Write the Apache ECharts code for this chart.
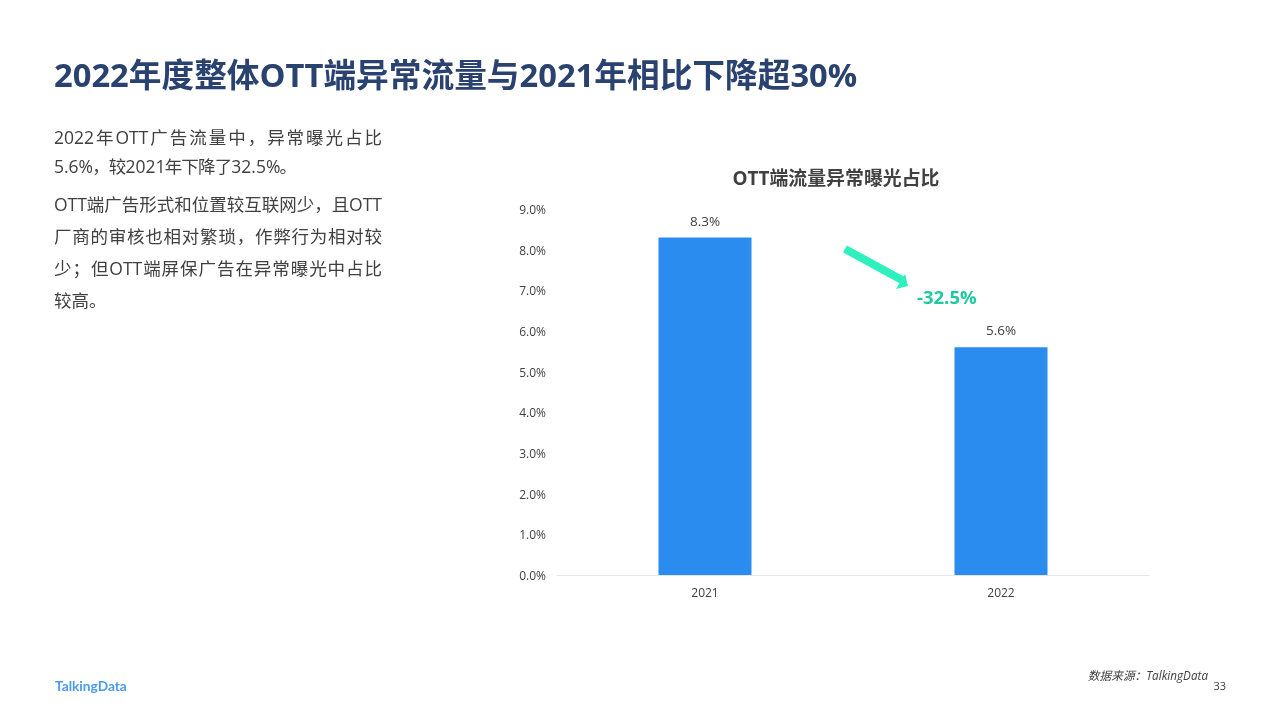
<!DOCTYPE html>
<html>
<head>
<meta charset="utf-8">
<title>OTT端流量异常曝光占比</title>
<style>
html, body { margin: 0; padding: 0; background: #fff; }
#chart { width: 1280px; height: 720px; }
</style>
<script src="https://cdn.jsdelivr.net/npm/echarts@6/dist/echarts.min.js"></script>
</head>
<body>
<div id="chart"></div>
<script>
const years = ['2021', '2022'];
const ratios = [8.3, 5.6];
const yTicks = { min: 0, max: 9, interval: 1 };

const pageTitle = '2022年度整体OTT端异常流量与2021年相比下降超30%';
const chartTitle = 'OTT端流量异常曝光占比';
const bodyLines = [
    '2022年OTT广告流量中，异常曝光占比',
    '5.6%，较2021年下降了32.5%。',
    'OTT端广告形式和位置较互联网少，且OTT',
    '厂商的审核也相对繁琐，作弊行为相对较',
    '少；但OTT端屏保广告在异常曝光中占比',
    '较高。'
];
const changeLabel = '-32.5%';
const sourceLabel = '数据来源：TalkingData';
const pageNumber = '33';
const logoLabel = 'TalkingData';

// 正文排版：每行的中线 y 和两端对齐后的宽度
const bodyLineY = [139.5, 168.5, 206.5, 238.5, 270.5, 302.5];
const bodyLineWidth = [328, 243, 328, 328, 328, 0];
const bodyFontSize = 17.5;

const fontFamily = '"Open Sans", "Noto Sans CJK SC", sans-serif';

const measureCtx = document.createElement('canvas').getContext('2d');
measureCtx.font = bodyFontSize + 'px ' + fontFamily;

// 拉丁字符连成一段，汉字逐字拆开，再把多余宽度平均分到间隙里
function justifyLine(line, y, width) {
    const tokens = line.match(/[A-Za-z0-9.%]+|./g);
    const sizes = tokens.map(t => measureCtx.measureText(t).width);
    const total = sizes.reduce((a, b) => a + b, 0);
    const gap = width ? (width - total) / (tokens.length - 1) : 0;
    let x = 54;
    return tokens.map((t, i) => {
        const el = {
            type: 'text', x, y,
            style: { text: t, fontSize: bodyFontSize, fill: '#404040', fontFamily, verticalAlign: 'middle' }
        };
        x += sizes[i] + gap;
        return el;
    });
}

const chart = echarts.init(document.getElementById('chart'));

const option = {
    animation: false,
    backgroundColor: '#fff',
    textStyle: { fontFamily },
    grid: { left: 557, right: 131, top: 209, bottom: 145, containLabel: false },
    xAxis: {
        type: 'category',
        data: years,
        axisLine: { lineStyle: { color: '#e3e6ea', width: 1 } },
        axisTick: { show: false },
        axisLabel: { color: '#404040', fontSize: 12, margin: 13, fontFamily }
    },
    yAxis: {
        type: 'value',
        min: yTicks.min,
        max: yTicks.max,
        interval: yTicks.interval,
        axisLine: { show: false },
        axisTick: { show: false },
        splitLine: { show: false },
        axisLabel: {
            color: '#404040',
            fontSize: 12,
            margin: 11,
            verticalAlign: 'top',
            lineHeight: 3,
            fontFamily,
            formatter: v => v.toFixed(1) + '%'
        }
    },
    series: [{
        type: 'bar',
        data: ratios,
        barWidth: 93,
        itemStyle: { color: '#2b8cf0' },
        label: {
            show: true,
            position: 'top',
            distance: 9,
            color: '#404040',
            fontSize: 13.5,
            fontFamily,
            formatter: p => p.value.toFixed(1) + '%'
        }
    }],
    graphic: [
        {
            type: 'text', x: 54, y: 78,
            style: { text: pageTitle, fontSize: 32.7, fontWeight: 'bold', fill: '#2a4270', fontFamily, verticalAlign: 'middle' }
        },
        ...bodyLines.flatMap((line, i) => justifyLine(line, bodyLineY[i], bodyLineWidth[i])),
        {
            type: 'text', x: 836, y: 180,
            style: { text: chartTitle, fontSize: 18.9, fontWeight: 'bold', fill: '#404040', fontFamily, align: 'center', verticalAlign: 'middle' }
        },
        // 下降箭头
        {
            type: 'line',
            shape: { x1: 845, y1: 249, x2: 902, y2: 280 },
            style: { stroke: '#2ef0bd', lineWidth: 8 }
        },
        {
            type: 'polygon',
            shape: { points: [[908, 286], [896, 289], [905, 274]] },
            style: { fill: '#2ef0bd' }
        },
        {
            type: 'text', x: 917, y: 299,
            style: { text: changeLabel, fontSize: 18.5, fontWeight: 'bold', fill: '#1fc9a0', fontFamily, verticalAlign: 'middle' }
        },
        {
            type: 'text', x: 1208, y: 676.5,
            style: { text: sourceLabel, fontSize: 11.7, fontStyle: 'italic', fill: '#404040', fontFamily, align: 'right', verticalAlign: 'middle' }
        },
        {
            type: 'text', x: 1226, y: 687,
            style: { text: pageNumber, fontSize: 11, fill: '#404040', fontFamily, align: 'right', verticalAlign: 'middle' }
        },
        {
            type: 'text', x: 55, y: 687,
            style: { text: logoLabel, fontSize: 13.7, fontWeight: 'bold', fill: '#4a9be8', fontFamily: 'Lato, sans-serif', verticalAlign: 'middle' }
        }
    ]
};

chart.setOption(option);
</script>
</body>
</html>
